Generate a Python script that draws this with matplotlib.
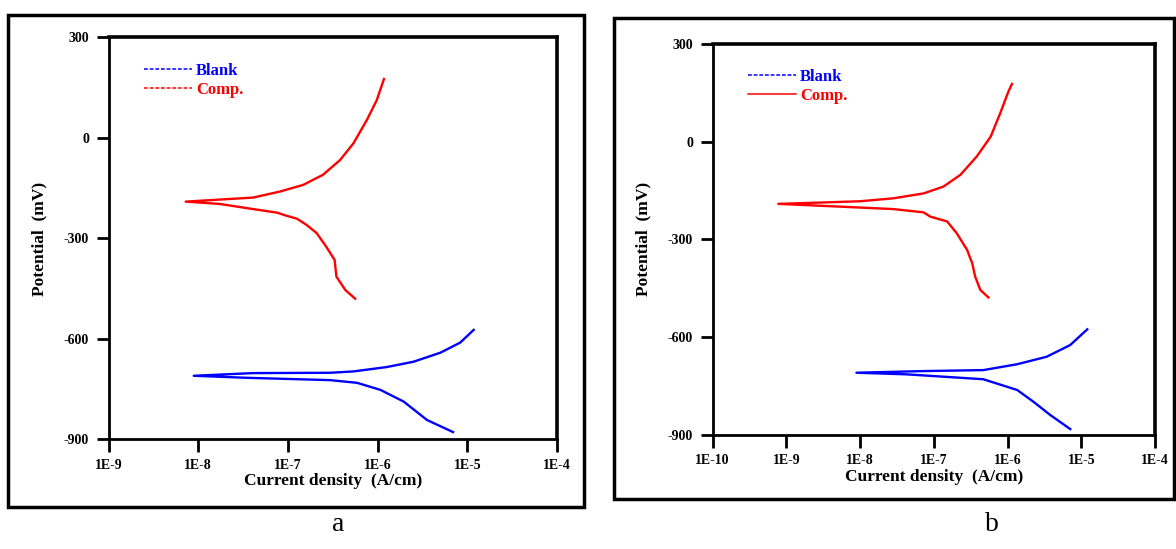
import matplotlib
matplotlib.use("Agg")
import matplotlib.pyplot as plt
import numpy as np
from matplotlib.lines import Line2D
from matplotlib.patches import Rectangle
from matplotlib.ticker import FixedLocator, FixedFormatter, NullLocator

plt.rcParams["font.family"] = ["Liberation Serif", "DejaVu Serif"]
plt.rcParams["font.weight"] = "bold"

# log10 of current density (A/cm) and potential (mV)
# each series runs cathodic end -> corrosion tip -> anodic end
a_comp_logi = [-6.25, -6.36, -6.46, -6.48, -6.57, -6.68, -6.79, -6.90, -7.03, -7.12, -7.42, -7.76,
               -8.14, -7.83, -7.39, -7.09, -6.83, -6.61, -6.42, -6.27, -6.12, -6.01, -5.93]
a_comp_e = [-480, -454, -414, -364, -326, -284, -260, -241, -231, -223, -211, -197,
            -190, -185, -178, -160, -140, -110, -66, -16, 54, 113, 176]
a_blank_logi = [-5.16, -5.45, -5.71, -5.97, -6.23, -6.53, -7.46, -8.05,
                -7.39, -6.53, -6.27, -5.90, -5.60, -5.30, -5.08, -4.93]
a_blank_e = [-878, -842, -787, -752, -731, -723, -716, -710,
             -702, -701, -697, -684, -668, -641, -611, -573]

b_comp_logi = [-6.26, -6.37, -6.44, -6.48, -6.55, -6.69, -6.82, -7.05, -7.14, -7.55, -8.23,
               -9.11, -8.54, -8.00, -7.55, -7.14, -6.87, -6.64, -6.42, -6.23, -6.10, -5.99, -5.94]
b_comp_e = [-478, -455, -414, -373, -332, -281, -245, -230, -217, -207, -200,
            -191, -187, -183, -174, -159, -138, -102, -46, 15, 87, 153, 177]
b_blank_logi = [-5.15, -5.42, -5.65, -5.87, -6.33, -7.37, -8.05,
                -7.14, -6.33, -5.87, -5.47, -5.15, -4.92]
b_blank_e = [-882, -839, -798, -762, -729, -714, -709,
             -704, -701, -683, -660, -624, -576]

y_ticks = [300, 0, -300, -600, -900]
a_x_ticks = [1e-9, 1e-8, 1e-7, 1e-6, 1e-5, 1e-4]
a_x_labels = ["1E-9", "1E-8", "1E-7", "1E-6", "1E-5", "1E-4"]
b_x_ticks = [1e-10, 1e-9, 1e-8, 1e-7, 1e-6, 1e-5, 1e-4]
b_x_labels = ["1E-10", "1E-9", "1E-8", "1E-7", "1E-6", "1E-5", "1E-4"]

BLUE = "#0000ff"
RED = "#ff0000"


def draw_panel(ax, blank_logi, blank_e, comp_logi, comp_e, xticks, xlabels, comp_ls):
    ax.plot(10.0 ** np.asarray(comp_logi), comp_e, color=RED, lw=1.7)
    ax.plot(10.0 ** np.asarray(blank_logi), blank_e, color=BLUE, lw=1.7)
    ax.set_xscale("log")
    ax.set_xlim(xticks[0], xticks[-1])
    ax.set_ylim(-900, 300)
    ax.xaxis.set_major_locator(FixedLocator(xticks))
    ax.xaxis.set_major_formatter(FixedFormatter(xlabels))
    ax.xaxis.set_minor_locator(NullLocator())
    ax.set_yticks(y_ticks)
    ax.set_yticklabels([str(v) for v in y_ticks])
    ax.tick_params(axis="both", direction="out", length=9, width=2, labelsize=10)
    ax.tick_params(axis="x", pad=5)
    ax.tick_params(axis="y", pad=5)
    for lab in ax.get_xticklabels() + ax.get_yticklabels():
        lab.set_fontweight("bold")
    for side in ("top", "right"):
        ax.spines[side].set_linewidth(2.6)
    for side in ("left", "bottom"):
        ax.spines[side].set_linewidth(2.0)
    ax.set_xlabel("Current density  (A/cm)", fontsize=12.5, fontweight="bold", labelpad=1)
    ax.set_ylabel("Potential  (mV)", fontsize=12.5, fontweight="bold", labelpad=12)
    handles = [Line2D([0, 1], [0, 1], color=BLUE, linestyle=(0, (2.5, 1.2)), linewidth=1.1),
               Line2D([0, 1], [0, 1], color=RED, linestyle=comp_ls, linewidth=1.1)]
    leg = ax.legend(handles, ["Blank", "Comp."], loc="upper left", bbox_to_anchor=(0.045, 0.975),
                    frameon=False, handlelength=2.9, handletextpad=0.25, labelspacing=0.2,
                    prop={"weight": "bold", "size": 12})
    for txt, col in zip(leg.get_texts(), (BLUE, RED)):
        txt.set_color(col)
    for line, col in zip(leg.get_lines(), (BLUE, RED)):
        line.set_color(col)


fig = plt.figure(figsize=(11.76, 5.49), dpi=100)

ax_a = fig.add_axes([0.0923, 0.1996, 0.3814, 0.7321])
draw_panel(ax_a, a_blank_logi, a_blank_e, a_comp_logi, a_comp_e, a_x_ticks, a_x_labels, (0, (2.5, 1.2)))

ax_b = fig.add_axes([0.6060, 0.2077, 0.3762, 0.7125])
draw_panel(ax_b, b_blank_logi, b_blank_e, b_comp_logi, b_comp_e, b_x_ticks, b_x_labels, "-")

# outer frames around each panel
fig.add_artist(Rectangle((0.0068, 0.0765), 0.4898, 0.896, transform=fig.transFigure,
                         fill=False, lw=2.5, ec="black"))
fig.add_artist(Rectangle((0.522, 0.0911), 0.476, 0.876, transform=fig.transFigure,
                         fill=False, lw=2.5, ec="black"))

fig.text(0.2874, 0.022, "a", fontsize=20, fontweight="normal", ha="center", va="bottom")
fig.text(0.8435, 0.022, "b", fontsize=20, fontweight="normal", ha="center", va="bottom")

fig.savefig("out.png", dpi=100)
